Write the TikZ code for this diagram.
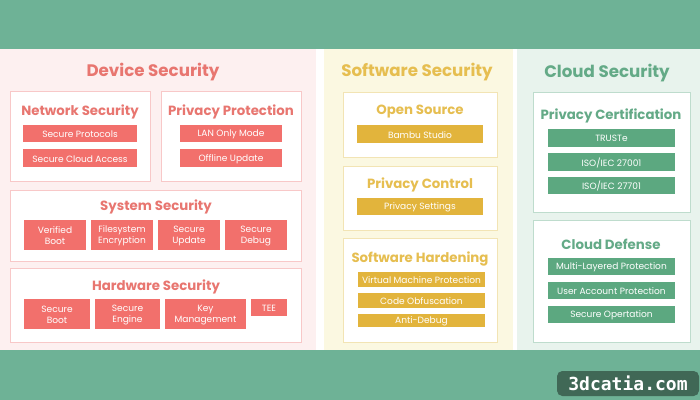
\documentclass[tikz,border=0pt]{standalone}
\usepackage{fontspec}
\setmainfont{Poppins}
\setmonofont{DejaVu Sans Mono}
\usetikzlibrary{fit}

\definecolor{bggreen}{RGB}{110,178,150}
\definecolor{markgreen}{RGB}{64,104,86}
\definecolor{devbg}{RGB}{253,240,240}
\definecolor{devred}{RGB}{242,112,108}
\definecolor{devtxt}{RGB}{232,118,112}
\definecolor{devline}{RGB}{248,200,200}
\definecolor{swbg}{RGB}{251,248,225}
\definecolor{swgold}{RGB}{226,180,60}
\definecolor{swtxt}{RGB}{230,190,80}
\definecolor{swline}{RGB}{242,228,180}
\definecolor{clbg}{RGB}{232,243,237}
\definecolor{clgreen}{RGB}{92,168,128}
\definecolor{cltxt}{RGB}{100,170,135}
\definecolor{clline}{RGB}{190,220,205}

\tikzset{
  head/.style={font=\fontsize{12.5}{14}\selectfont\bfseries},
  subhead/.style={font=\fontsize{10}{12}\selectfont\bfseries},
  btntext/.style={inner sep=0pt, text=white, align=center, yshift=-0.6pt,
    font=\fontsize{6.8}{8}\selectfont},
  btn/.style={inner sep=0pt, label={[btntext]center:#1}},
  devbtn/.style={btn=#1, fill=devred},
  swbtn/.style={btn=#1, fill=swgold},
  clbtn/.style={btn=#1, fill=clgreen},
}

\begin{document}
\begin{tikzpicture}[x=0.75pt,y=-0.75pt]
  \useasboundingbox (0,0) rectangle (700,400);
  \fill[bggreen] (0,0) rectangle (700,400);
  \fill[white] (0,49) rectangle (700,350);
  \fill[devbg] (0,49) rectangle (316,350);
  \fill[swbg] (324,49) rectangle (513,350);
  \fill[clbg] (517,49) rectangle (700,350);

  % device security
  \begin{scope}[every node/.append style={text=devtxt}]
    \node[head] (devT) at (153,72) {Device Security};
    \draw[devline, fill=white] (10,91) rectangle (150,181);
    \draw[devline, fill=white] (161,91) rectangle (301,181);
    \draw[devline, fill=white] (10,190) rectangle (301,261);
    \draw[devline, fill=white] (10,268) rectangle (301,342);
    \node[subhead] (netT) at (80,112) {Network Security};
    \node[subhead] (privT) at (231,112) {Privacy Protection};
    \node[subhead] (sysT) at (156,207) {System Security};
    \node[subhead] (hwT) at (156,287) {Hardware Security};
  \end{scope}
  \node[devbtn={Secure Protocols}, fit={(23,125) (137,142)}] (net1) {};
  \node[devbtn={Secure Cloud Access}, fit={(23,149) (137,167)}] (net2) {};
  \node[devbtn={LAN Only Mode}, fit={(180,125) (282,142)}] (priv1) {};
  \node[devbtn={Offline Update}, fit={(180,149) (282,167)}] (priv2) {};
  \foreach \i/\a/\b/\t in {1/24/86/Verified\\Boot, 2/91/153/Filesystem\\Encryption,
    3/158/220/Secure\\Update, 4/225/287/Secure\\Debug}
  {
    \node[devbtn={\t}, fit={(\a,220) (\b,250)}] (sys\i) {};
  }
  \foreach \i/\a/\b/\t in {1/24/90/Secure\\Boot, 2/95/160/Secure\\Engine,
    3/165/246/Key\\Management}
  {
    \node[devbtn={\t}, fit={(\a,299) (\b,329)}] (hw\i) {};
  }
  \node[devbtn={TEE}, fit={(251,299) (287,316)}] (hw4) {};

  % software security
  \begin{scope}[every node/.append style={text=swtxt}]
    \node[head] (swT) at (417,72) {Software Security};
    \draw[swline, fill=white] (343,92) rectangle (497,157);
    \draw[swline, fill=white] (343,166) rectangle (497,230);
    \draw[swline, fill=white] (343,238) rectangle (497,342);
    \node[subhead] (osT) at (420,112) {Open Source};
    \node[subhead] (pcT) at (420,185) {Privacy Control};
    \node[subhead] (shT) at (420,259) {Software Hardening};
  \end{scope}
  \node[swbtn={Bambu Studio}, fit={(357,125) (483,143)}] (os1) {};
  \node[swbtn={Privacy Settings}, fit={(357,198) (483,215)}] (pc1) {};
  \node[swbtn={Virtual Machine Protection}, fit={(358,272) (485,287)}] (sh1) {};
  \node[swbtn={Code Obfuscation}, fit={(358,293) (485,308)}] (sh2) {};
  \node[swbtn={Anti-Debug}, fit={(358,314) (485,327)}] (sh3) {};

  % cloud security
  \begin{scope}[every node/.append style={text=cltxt}]
    \node[head] (clT) at (607,73) {Cloud Security};
    \draw[clline, fill=white] (533,92) rectangle (690,212);
    \draw[clline, fill=white] (533,220) rectangle (690,342);
    \node[subhead] (certT) at (611,116) {Privacy Certification};
    \node[subhead] (cdT) at (611,244) {Cloud Defense};
  \end{scope}
  \node[clbtn={TRUSTe}, fit={(548,129) (675,147)}] (cert1) {};
  \node[clbtn={ISO/IEC 27001}, fit={(548,153) (675,171)}] (cert2) {};
  \node[clbtn={ISO/IEC 27701}, fit={(548,177) (675,194)}] (cert3) {};
  \node[clbtn={Multi-Layered Protection}, fit={(548,258) (675,275)}] (cd1) {};
  \node[clbtn={User Account Protection}, fit={(548,282) (675,299)}] (cd2) {};
  \node[clbtn={Secure Opertation}, fit={(548,306) (675,323)}] (cd3) {};

  % watermark
  \node[fill=markgreen, rounded corners=4pt, inner sep=0pt, fit={(557,371) (699,396)},
    label={[text=white, font=\fontsize{13.5}{15}\selectfont\ttfamily\bfseries]center:3dcatia.com}] (mark) {};
\end{tikzpicture}
\end{document}
